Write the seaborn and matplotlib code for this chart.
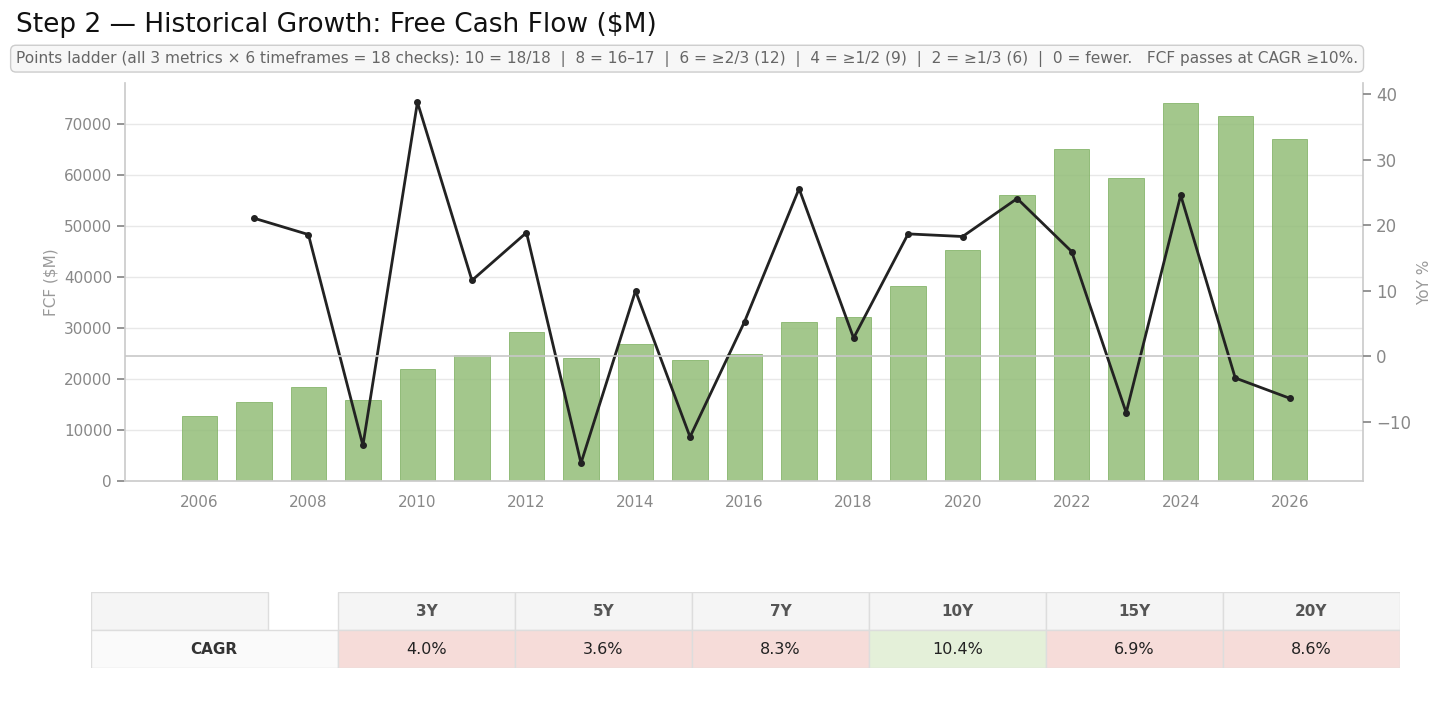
import numpy as np
import pandas as pd
import matplotlib.pyplot as plt
import seaborn as sns
from matplotlib.patches import Rectangle

years = list(range(2006, 2027))
fcf = [12800, 15600, 18500, 16000, 22100, 24700, 29200, 24200, 27000, 23700, 25000,
       31300, 32200, 38200, 45300, 56200, 65100, 59500, 74200, 71600, 67000]
yoy = [np.nan, 21.1, 18.6, -13.6, 38.8, 11.6, 18.9, -16.3, 10.0, -12.3, 5.3,
       25.6, 2.8, 18.7, 18.3, 24.1, 16.0, -8.6, 24.6, -3.3, -6.4]
periods = ["3Y", "5Y", "7Y", "10Y", "15Y", "20Y"]
cagr = [4.0, 3.6, 8.3, 10.4, 6.9, 8.6]
threshold = 10.0

sns.set_theme(style="whitegrid")
plt.rcParams['font.family'] = ['DejaVu Sans']

df = pd.DataFrame({"year": years, "fcf": fcf, "yoy": yoy})

fig = plt.figure(figsize=(14.56, 7.24), dpi=100)
ax = fig.add_axes([0.086, 0.335, 0.85, 0.55])
x = np.arange(len(years))
sns.barplot(data=df, x="year", y="fcf", ax=ax, color="#93bd78", alpha=0.85,
            edgecolor="#7aae5c", linewidth=0.6, width=0.65, saturation=1)
ax.set_xlim(-1.36, 21.34)
ax.set_ylim(0, 78000)
ax.set_xticks(x[::2])
ax.set_xticklabels([str(y) for y in years[::2]])
ax.set_xlabel("")
ax.set_ylabel("FCF ($M)", color="#999999", fontsize=11)
ax.tick_params(colors="#888888", labelsize=11)
ax.grid(axis="x", visible=False)
ax.grid(axis="y", color="#e8e8e8")
ax.spines["top"].set_visible(False)
for s in ["left", "bottom", "right"]:
    ax.spines[s].set_color("#cccccc")

ax2 = ax.twinx()
ax2.plot(x, df["yoy"], color="#222222", lw=2, marker="o", ms=4)
ax2.axhline(0, color="#c8c8c8", lw=1.2)
ax2.set_ylim(-19.1, 41.7)
ax2.set_yticks([-10, 0, 10, 20, 30, 40])
ax2.set_yticklabels(["\u221210", "0", "10", "20", "30", "40"])
ax2.grid(False)
ax2.set_ylabel("YoY %", color="#999999", fontsize=11)
ax2.tick_params(colors="#888888", labelsize=12)
for s in ax2.spines.values():
    s.set_visible(False)

fig.text(0.011, 0.965, "Step 2 \u2014 Historical Growth: Free Cash Flow ($M)", fontsize=19,
         color="#111111", va="center")
fig.text(0.011, 0.919,
         "Points ladder (all 3 metrics \u00d7 6 timeframes = 18 checks): 10 = 18/18  |  8 = 16\u201317  |  "
         "6 = \u22652/3 (12)  |  4 = \u22651/2 (9)  |  2 = \u22651/3 (6)  |  0 = fewer.   FCF passes at CAGR \u226510%.",
         fontsize=11.1, color="#666666", va="center",
         bbox=dict(boxstyle="round,pad=0.35", fc="#f7f7f7", ec="#cccccc"))

# CAGR table
tb = fig.add_axes([0.0625, 0.077, 0.899, 0.105])
tb.set_xlim(91, 1400)
tb.set_ylim(0, 2)
tb.axis("off")
edges = [338, 515, 692, 869, 1046, 1223, 1400]
tb.add_patch(Rectangle((91, 1), 177, 1, fc="#f5f5f5", ec="#dddddd"))
tb.add_patch(Rectangle((91, 0), 247, 1, fc="#fafafa", ec="#dddddd"))
tb.text(214, 0.5, "CAGR", ha="center", va="center", fontsize=11, fontweight="bold", color="#333333")
for i, (p, v) in enumerate(zip(periods, cagr)):
    l, r = edges[i], edges[i + 1]
    tb.add_patch(Rectangle((l, 1), r - l, 1, fc="#f5f5f5", ec="#dddddd"))
    tb.text((l + r) / 2, 1.5, p, ha="center", va="center", fontsize=11, fontweight="bold", color="#555555")
    fc = "#e4f0d9" if v >= threshold else "#f6dcd9"
    tb.add_patch(Rectangle((l, 0), r - l, 1, fc=fc, ec="#dddddd"))
    tb.text((l + r) / 2, 0.5, f"{v:.1f}%", ha="center", va="center", fontsize=11.5, color="#222222")

fig.savefig("out.png", dpi=100)
